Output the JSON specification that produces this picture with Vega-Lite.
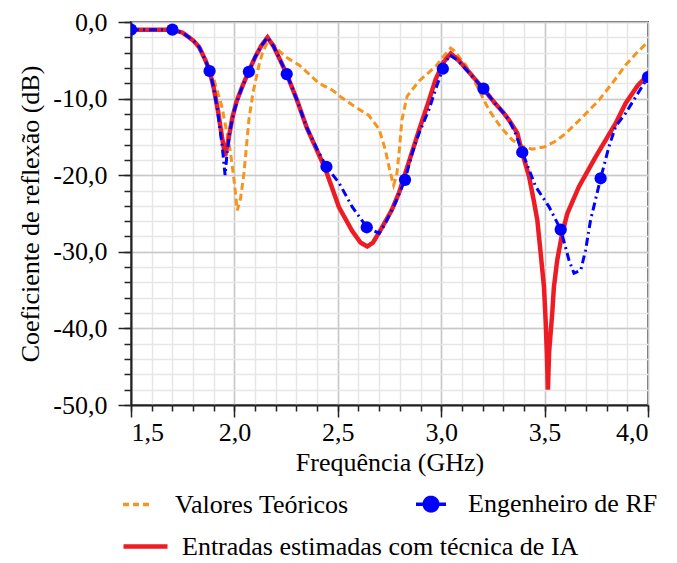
{
  "$schema": "https://vega.github.io/schema/vega-lite/v6.json",
  "width": 517,
  "height": 383,
  "padding": {"left": 17, "top": 9, "right": 3, "bottom": 0},
  "background": "white",
  "view": {"stroke": "#444444", "strokeWidth": 2},
  "datasets": {
    "theo": [
      {"f": 1.5, "db": -1.0, "s": "Valores Teóricos"},
      {"f": 1.6, "db": -1.0, "s": "Valores Teóricos"},
      {"f": 1.7, "db": -1.05, "s": "Valores Teóricos"},
      {"f": 1.74, "db": -1.3, "s": "Valores Teóricos"},
      {"f": 1.78, "db": -1.9, "s": "Valores Teóricos"},
      {"f": 1.82, "db": -3.0, "s": "Valores Teóricos"},
      {"f": 1.86, "db": -4.8, "s": "Valores Teóricos"},
      {"f": 1.9, "db": -7.4, "s": "Valores Teóricos"},
      {"f": 1.94, "db": -11.1, "s": "Valores Teóricos"},
      {"f": 1.98, "db": -16.8, "s": "Valores Teóricos"},
      {"f": 2.0, "db": -21.0, "s": "Valores Teóricos"},
      {"f": 2.014, "db": -24.6, "s": "Valores Teóricos"},
      {"f": 2.03, "db": -23.0, "s": "Valores Teóricos"},
      {"f": 2.046, "db": -19.8, "s": "Valores Teóricos"},
      {"f": 2.07, "db": -12.8, "s": "Valores Teóricos"},
      {"f": 2.09, "db": -9.2, "s": "Valores Teóricos"},
      {"f": 2.103, "db": -7.6, "s": "Valores Teóricos"},
      {"f": 2.12, "db": -5.5, "s": "Valores Teóricos"},
      {"f": 2.135, "db": -4.1, "s": "Valores Teóricos"},
      {"f": 2.155, "db": -2.9, "s": "Valores Teóricos"},
      {"f": 2.167, "db": -2.5, "s": "Valores Teóricos"},
      {"f": 2.185, "db": -2.8, "s": "Valores Teóricos"},
      {"f": 2.21, "db": -3.6, "s": "Valores Teóricos"},
      {"f": 2.25, "db": -4.6, "s": "Valores Teóricos"},
      {"f": 2.312, "db": -5.6, "s": "Valores Teóricos"},
      {"f": 2.409, "db": -8.0, "s": "Valores Teóricos"},
      {"f": 2.474, "db": -8.9, "s": "Valores Teóricos"},
      {"f": 2.52, "db": -9.9, "s": "Valores Teóricos"},
      {"f": 2.569, "db": -10.8, "s": "Valores Teóricos"},
      {"f": 2.65, "db": -12.2, "s": "Valores Teóricos"},
      {"f": 2.7, "db": -14.0, "s": "Valores Teóricos"},
      {"f": 2.73, "db": -16.7, "s": "Valores Teóricos"},
      {"f": 2.754, "db": -19.7, "s": "Valores Teóricos"},
      {"f": 2.77, "db": -21.3, "s": "Valores Teóricos"},
      {"f": 2.785, "db": -20.0, "s": "Valores Teóricos"},
      {"f": 2.796, "db": -17.1, "s": "Valores Teóricos"},
      {"f": 2.81, "db": -12.8, "s": "Valores Teóricos"},
      {"f": 2.835, "db": -9.7, "s": "Valores Teóricos"},
      {"f": 2.893, "db": -7.7, "s": "Valores Teóricos"},
      {"f": 2.973, "db": -5.8, "s": "Valores Teóricos"},
      {"f": 3.02, "db": -4.2, "s": "Valores Teóricos"},
      {"f": 3.046, "db": -3.4, "s": "Valores Teóricos"},
      {"f": 3.065, "db": -3.8, "s": "Valores Teóricos"},
      {"f": 3.09, "db": -4.7, "s": "Valores Teóricos"},
      {"f": 3.118, "db": -5.6, "s": "Valores Teóricos"},
      {"f": 3.17, "db": -8.2, "s": "Valores Teóricos"},
      {"f": 3.231, "db": -11.5, "s": "Valores Teóricos"},
      {"f": 3.29, "db": -13.8, "s": "Valores Teóricos"},
      {"f": 3.344, "db": -15.4, "s": "Valores Teóricos"},
      {"f": 3.39, "db": -16.2, "s": "Valores Teóricos"},
      {"f": 3.44, "db": -16.6, "s": "Valores Teóricos"},
      {"f": 3.5, "db": -16.3, "s": "Valores Teóricos"},
      {"f": 3.55, "db": -15.6, "s": "Valores Teóricos"},
      {"f": 3.6, "db": -14.6, "s": "Valores Teóricos"},
      {"f": 3.68, "db": -12.5, "s": "Valores Teóricos"},
      {"f": 3.763, "db": -10.2, "s": "Valores Teóricos"},
      {"f": 3.83, "db": -7.9, "s": "Valores Teóricos"},
      {"f": 3.892, "db": -5.6, "s": "Valores Teóricos"},
      {"f": 3.95, "db": -3.9, "s": "Valores Teóricos"},
      {"f": 4.0, "db": -2.6, "s": "Valores Teóricos"}
    ],
    "ai": [
      {"f": 1.5, "db": -1.0, "s": "Entradas estimadas com técnica de IA"},
      {"f": 1.6, "db": -1.0, "s": "Entradas estimadas com técnica de IA"},
      {"f": 1.7, "db": -1.0, "s": "Entradas estimadas com técnica de IA"},
      {"f": 1.75, "db": -1.4, "s": "Entradas estimadas com técnica de IA"},
      {"f": 1.8, "db": -2.4, "s": "Entradas estimadas com técnica de IA"},
      {"f": 1.83, "db": -3.3, "s": "Entradas estimadas com técnica de IA"},
      {"f": 1.86, "db": -5.0, "s": "Entradas estimadas com técnica de IA"},
      {"f": 1.88, "db": -6.4, "s": "Entradas estimadas com técnica de IA"},
      {"f": 1.9, "db": -8.6, "s": "Entradas estimadas com técnica de IA"},
      {"f": 1.92, "db": -11.5, "s": "Entradas estimadas com técnica de IA"},
      {"f": 1.94, "db": -15.0, "s": "Entradas estimadas com técnica de IA"},
      {"f": 1.955, "db": -17.5, "s": "Entradas estimadas com técnica de IA"},
      {"f": 1.97, "db": -15.5, "s": "Entradas estimadas com técnica de IA"},
      {"f": 1.99, "db": -12.5, "s": "Entradas estimadas com técnica de IA"},
      {"f": 2.01, "db": -10.4, "s": "Entradas estimadas com técnica de IA"},
      {"f": 2.04, "db": -8.3, "s": "Entradas estimadas com técnica de IA"},
      {"f": 2.07, "db": -6.4, "s": "Entradas estimadas com técnica de IA"},
      {"f": 2.1, "db": -4.6, "s": "Entradas estimadas com técnica de IA"},
      {"f": 2.13, "db": -3.1, "s": "Entradas estimadas com técnica de IA"},
      {"f": 2.16, "db": -2.0, "s": "Entradas estimadas com técnica de IA"},
      {"f": 2.19, "db": -3.2, "s": "Entradas estimadas com técnica de IA"},
      {"f": 2.22, "db": -4.9, "s": "Entradas estimadas com técnica de IA"},
      {"f": 2.253, "db": -6.8, "s": "Entradas estimadas com técnica de IA"},
      {"f": 2.3, "db": -10.0, "s": "Entradas estimadas com técnica de IA"},
      {"f": 2.35, "db": -13.8, "s": "Entradas estimadas com técnica de IA"},
      {"f": 2.4, "db": -16.8, "s": "Entradas estimadas com técnica de IA"},
      {"f": 2.44, "db": -19.2, "s": "Entradas estimadas com técnica de IA"},
      {"f": 2.506, "db": -24.2, "s": "Entradas estimadas com técnica de IA"},
      {"f": 2.57, "db": -27.3, "s": "Entradas estimadas com técnica de IA"},
      {"f": 2.61, "db": -28.8, "s": "Entradas estimadas com técnica de IA"},
      {"f": 2.643, "db": -29.3, "s": "Entradas estimadas com técnica de IA"},
      {"f": 2.67, "db": -28.8, "s": "Entradas estimadas com técnica de IA"},
      {"f": 2.71, "db": -27.0, "s": "Entradas estimadas com técnica de IA"},
      {"f": 2.76, "db": -24.6, "s": "Entradas estimadas com técnica de IA"},
      {"f": 2.796, "db": -22.3, "s": "Entradas estimadas com técnica de IA"},
      {"f": 2.84, "db": -18.6, "s": "Entradas estimadas com técnica de IA"},
      {"f": 2.893, "db": -14.1, "s": "Entradas estimadas com técnica de IA"},
      {"f": 2.94, "db": -10.3, "s": "Entradas estimadas com técnica de IA"},
      {"f": 2.973, "db": -7.5, "s": "Entradas estimadas com técnica de IA"},
      {"f": 3.01, "db": -5.3, "s": "Entradas estimadas com técnica de IA"},
      {"f": 3.046, "db": -4.1, "s": "Entradas estimadas com técnica de IA"},
      {"f": 3.08, "db": -4.9, "s": "Entradas estimadas com técnica de IA"},
      {"f": 3.13, "db": -6.4, "s": "Entradas estimadas com técnica de IA"},
      {"f": 3.2, "db": -8.6, "s": "Entradas estimadas com técnica de IA"},
      {"f": 3.26, "db": -10.6, "s": "Entradas estimadas com técnica de IA"},
      {"f": 3.3, "db": -11.8, "s": "Entradas estimadas com técnica de IA"},
      {"f": 3.328, "db": -12.8, "s": "Entradas estimadas com técnica de IA"},
      {"f": 3.368, "db": -14.5, "s": "Entradas estimadas com técnica de IA"},
      {"f": 3.392, "db": -17.1, "s": "Entradas estimadas com técnica de IA"},
      {"f": 3.425, "db": -20.2, "s": "Entradas estimadas com técnica de IA"},
      {"f": 3.449, "db": -23.5, "s": "Entradas estimadas com técnica de IA"},
      {"f": 3.465, "db": -25.9, "s": "Entradas estimadas com técnica de IA"},
      {"f": 3.481, "db": -30.2, "s": "Entradas estimadas com técnica de IA"},
      {"f": 3.497, "db": -34.6, "s": "Entradas estimadas com técnica de IA"},
      {"f": 3.505, "db": -39.0, "s": "Entradas estimadas com técnica de IA"},
      {"f": 3.511, "db": -43.3, "s": "Entradas estimadas com técnica de IA"},
      {"f": 3.516, "db": -48.0, "s": "Entradas estimadas com técnica de IA"},
      {"f": 3.522, "db": -43.0, "s": "Entradas estimadas com técnica de IA"},
      {"f": 3.537, "db": -38.0, "s": "Entradas estimadas com técnica de IA"},
      {"f": 3.545, "db": -34.6, "s": "Entradas estimadas com técnica de IA"},
      {"f": 3.561, "db": -31.1, "s": "Entradas estimadas com técnica de IA"},
      {"f": 3.585, "db": -27.6, "s": "Entradas estimadas com técnica de IA"},
      {"f": 3.61, "db": -25.0, "s": "Entradas estimadas com técnica de IA"},
      {"f": 3.666, "db": -21.5, "s": "Entradas estimadas com técnica de IA"},
      {"f": 3.747, "db": -17.6, "s": "Entradas estimadas com técnica de IA"},
      {"f": 3.844, "db": -13.2, "s": "Entradas estimadas com técnica de IA"},
      {"f": 3.892, "db": -10.6, "s": "Entradas estimadas com técnica de IA"},
      {"f": 3.95, "db": -8.3, "s": "Entradas estimadas com técnica de IA"},
      {"f": 4.0, "db": -6.9, "s": "Entradas estimadas com técnica de IA"}
    ],
    "rf": [
      {"f": 1.5, "db": -1.0, "s": "Engenheiro de RF"},
      {"f": 1.6, "db": -1.0, "s": "Engenheiro de RF"},
      {"f": 1.7, "db": -1.0, "s": "Engenheiro de RF"},
      {"f": 1.75, "db": -1.4, "s": "Engenheiro de RF"},
      {"f": 1.8, "db": -2.4, "s": "Engenheiro de RF"},
      {"f": 1.83, "db": -3.3, "s": "Engenheiro de RF"},
      {"f": 1.86, "db": -5.0, "s": "Engenheiro de RF"},
      {"f": 1.88, "db": -6.4, "s": "Engenheiro de RF"},
      {"f": 1.9, "db": -8.6, "s": "Engenheiro de RF"},
      {"f": 1.92, "db": -11.8, "s": "Engenheiro de RF"},
      {"f": 1.94, "db": -16.0, "s": "Engenheiro de RF"},
      {"f": 1.955, "db": -20.0, "s": "Engenheiro de RF"},
      {"f": 1.965, "db": -17.0, "s": "Engenheiro de RF"},
      {"f": 1.98, "db": -14.0, "s": "Engenheiro de RF"},
      {"f": 2.0, "db": -11.5, "s": "Engenheiro de RF"},
      {"f": 2.03, "db": -9.0, "s": "Engenheiro de RF"},
      {"f": 2.07, "db": -6.5, "s": "Engenheiro de RF"},
      {"f": 2.1, "db": -4.6, "s": "Engenheiro de RF"},
      {"f": 2.13, "db": -3.1, "s": "Engenheiro de RF"},
      {"f": 2.16, "db": -2.0, "s": "Engenheiro de RF"},
      {"f": 2.19, "db": -3.2, "s": "Engenheiro de RF"},
      {"f": 2.22, "db": -4.9, "s": "Engenheiro de RF"},
      {"f": 2.253, "db": -6.8, "s": "Engenheiro de RF"},
      {"f": 2.3, "db": -10.0, "s": "Engenheiro de RF"},
      {"f": 2.35, "db": -13.8, "s": "Engenheiro de RF"},
      {"f": 2.4, "db": -16.6, "s": "Engenheiro de RF"},
      {"f": 2.445, "db": -18.9, "s": "Engenheiro de RF"},
      {"f": 2.506, "db": -21.0, "s": "Engenheiro de RF"},
      {"f": 2.569, "db": -24.1, "s": "Engenheiro de RF"},
      {"f": 2.64, "db": -26.8, "s": "Engenheiro de RF"},
      {"f": 2.7, "db": -27.6, "s": "Engenheiro de RF"},
      {"f": 2.73, "db": -26.3, "s": "Engenheiro de RF"},
      {"f": 2.78, "db": -23.5, "s": "Engenheiro de RF"},
      {"f": 2.825, "db": -20.6, "s": "Engenheiro de RF"},
      {"f": 2.86, "db": -17.1, "s": "Engenheiro de RF"},
      {"f": 2.893, "db": -14.5, "s": "Engenheiro de RF"},
      {"f": 2.94, "db": -11.5, "s": "Engenheiro de RF"},
      {"f": 2.973, "db": -8.8, "s": "Engenheiro de RF"},
      {"f": 3.008, "db": -6.1, "s": "Engenheiro de RF"},
      {"f": 3.04, "db": -4.3, "s": "Engenheiro de RF"},
      {"f": 3.08, "db": -5.0, "s": "Engenheiro de RF"},
      {"f": 3.13, "db": -6.5, "s": "Engenheiro de RF"},
      {"f": 3.204, "db": -8.7, "s": "Engenheiro de RF"},
      {"f": 3.26, "db": -10.6, "s": "Engenheiro de RF"},
      {"f": 3.3, "db": -11.8, "s": "Engenheiro de RF"},
      {"f": 3.33, "db": -12.9, "s": "Engenheiro de RF"},
      {"f": 3.36, "db": -14.6, "s": "Engenheiro de RF"},
      {"f": 3.392, "db": -17.0, "s": "Engenheiro de RF"},
      {"f": 3.457, "db": -21.5, "s": "Engenheiro de RF"},
      {"f": 3.521, "db": -24.1, "s": "Engenheiro de RF"},
      {"f": 3.578, "db": -27.1, "s": "Engenheiro de RF"},
      {"f": 3.618, "db": -31.1, "s": "Engenheiro de RF"},
      {"f": 3.642, "db": -32.8, "s": "Engenheiro de RF"},
      {"f": 3.675, "db": -32.4, "s": "Engenheiro de RF"},
      {"f": 3.698, "db": -29.8, "s": "Engenheiro de RF"},
      {"f": 3.722, "db": -25.9, "s": "Engenheiro de RF"},
      {"f": 3.771, "db": -20.4, "s": "Engenheiro de RF"},
      {"f": 3.811, "db": -16.3, "s": "Engenheiro de RF"},
      {"f": 3.844, "db": -13.6, "s": "Engenheiro de RF"},
      {"f": 3.892, "db": -11.9, "s": "Engenheiro de RF"},
      {"f": 3.956, "db": -9.1, "s": "Engenheiro de RF"},
      {"f": 4.0, "db": -7.2, "s": "Engenheiro de RF"}
    ],
    "rfpts": [
      {"f": 1.5, "db": -1.0, "s": "Engenheiro de RF"},
      {"f": 1.7, "db": -1.0, "s": "Engenheiro de RF"},
      {"f": 1.88, "db": -6.4, "s": "Engenheiro de RF"},
      {"f": 2.07, "db": -6.5, "s": "Engenheiro de RF"},
      {"f": 2.253, "db": -6.8, "s": "Engenheiro de RF"},
      {"f": 2.445, "db": -18.9, "s": "Engenheiro de RF"},
      {"f": 2.64, "db": -26.8, "s": "Engenheiro de RF"},
      {"f": 2.825, "db": -20.6, "s": "Engenheiro de RF"},
      {"f": 3.008, "db": -6.1, "s": "Engenheiro de RF"},
      {"f": 3.204, "db": -8.7, "s": "Engenheiro de RF"},
      {"f": 3.392, "db": -17.0, "s": "Engenheiro de RF"},
      {"f": 3.578, "db": -27.1, "s": "Engenheiro de RF"},
      {"f": 3.771, "db": -20.4, "s": "Engenheiro de RF"},
      {"f": 4.0, "db": -7.2, "s": "Engenheiro de RF"}
    ]
  },
  "layer": [
    {
      "data": {"name": "theo"},
      "mark": {"type": "line", "strokeWidth": 3, "clip": true},
      "encoding": {
        "x": {"field": "f", "type": "quantitative", "scale": {"domain": [1.5, 4.0], "nice": false, "zero": false},
          "axis": {"values": [1.5,1.6,1.7,1.8,1.9,2.0,2.1,2.2,2.3,2.4,2.5,2.6,2.7,2.8,2.9,3.0,3.1,3.2,3.3,3.4,3.5,3.6,3.7,3.8,3.9,4.0], "orient": "bottom", "labels": false, "title": null, "domain": false, "grid": true, "gridColor": "#e6e6e6", "gridWidth": 1.5, "tickSize": 6, "tickWidth": 1.5, "tickColor": "#222222"}},
        "y": {"field": "db", "type": "quantitative", "scale": {"domain": [-50, 0], "nice": false, "zero": false},
          "axis": {"values": [0,-2,-4,-6,-8,-10,-12,-14,-16,-18,-20,-22,-24,-26,-28,-30,-32,-34,-36,-38,-40,-42,-44,-46,-48,-50], "orient": "left", "labels": false, "title": null, "domain": false, "grid": true, "gridColor": "#e6e6e6", "gridWidth": 1.5, "tickSize": 7, "tickWidth": 1.5, "tickColor": "#222222"}},
        "color": {"field": "s", "type": "nominal",
          "scale": {"domain": ["Valores Teóricos", "Engenheiro de RF", "Entradas estimadas com técnica de IA"], "range": ["#f7941d", "#0000ff", "#ed1c24"]},
          "legend": {"title": null, "orient": "none", "legendX": -10, "legendY": 465, "direction": "horizontal", "values": ["Valores Teóricos", "Engenheiro de RF"], "columnPadding": 60, "symbolType": "stroke", "symbolSize": 900, "symbolStrokeWidth": 3.5, "labelOffset": 20, "labelLimit": 0,
            "labelFont": "Liberation Serif, Times New Roman, DejaVu Serif, serif", "labelFontSize": 26, "labelColor": "#000000",
            "encode": {"symbols": {"update": {
              "shape": {"signal": "datum.value === 'Engenheiro de RF' ? 'M-1,0L-0.5,0M0.5,0L1,0M0.45,0A0.45,0.45,0,1,1,-0.45,0A0.45,0.45,0,1,1,0.45,0Z' : 'stroke'"},
              "fill": {"signal": "datum.value === 'Engenheiro de RF' ? '#0000ff' : 'transparent'"},
              "strokeDash": {"signal": "datum.value === 'Valores Teóricos' ? [6, 4] : [1, 0]"}
            }}}}},
        "strokeDash": {"field": "s", "type": "nominal",
          "scale": {"domain": ["Entradas estimadas com técnica de IA", "Valores Teóricos", "Engenheiro de RF"], "range": [[1, 0], [7, 4], [8, 4, 2, 4]]},
          "legend": {"title": null, "orient": "none", "legendX": -10, "legendY": 500, "values": ["Entradas estimadas com técnica de IA"], "symbolType": "stroke", "symbolSize": 1936, "symbolStrokeWidth": 4.5, "symbolStrokeColor": "#ed1c24", "labelOffset": 12, "labelLimit": 0,
            "labelFont": "Liberation Serif, Times New Roman, DejaVu Serif, serif", "labelFontSize": 26, "labelColor": "#000000",
            "encode": {"symbols": {"update": {"stroke": {"value": "#ed1c24"}, "strokeDash": {"value": [1, 0]}}}}}}
      }
    },
    {
      "data": {"name": "ai"},
      "mark": {"type": "line", "strokeWidth": 4.5, "clip": true},
      "encoding": {
        "x": {"field": "f", "type": "quantitative",
          "axis": {"values": [1.5, 2.0, 2.5, 3.0, 3.5, 4.0], "orient": "bottom", "title": "Frequência (GHz)", "titlePadding": 4, "titleFont": "Liberation Serif, Times New Roman, DejaVu Serif, serif", "titleFontSize": 26, "titleFontWeight": "normal", "titleColor": "#000000", "labelFont": "Liberation Serif, Times New Roman, DejaVu Serif, serif", "labelFontSize": 26, "labelColor": "#000000", "domainColor": "#222222", "domainWidth": 2, "grid": true, "gridColor": "#c8c8c8", "gridWidth": 1.5, "tickSize": 12, "tickWidth": 1.5, "tickColor": "#222222", "labelPadding": 2, "labelExpr": "replace(format(datum.value, '.1f'), '.', ',')"}},
        "y": {"field": "db", "type": "quantitative",
          "axis": {"values": [0, -10, -20, -30, -40, -50], "orient": "left", "title": "Coeficiente de reflexão (dB)", "titlePadding": 9, "titleFont": "Liberation Serif, Times New Roman, DejaVu Serif, serif", "titleFontSize": 26, "titleFontWeight": "normal", "titleColor": "#000000", "labelFont": "Liberation Serif, Times New Roman, DejaVu Serif, serif", "labelFontSize": 26, "labelColor": "#000000", "domainColor": "#222222", "domainWidth": 2, "grid": true, "gridColor": "#c8c8c8", "gridWidth": 1.5, "tickSize": 13, "tickWidth": 1.5, "tickColor": "#222222", "labelPadding": 11, "labelExpr": "(datum.value < 0 ? '-' : '') + replace(format(abs(datum.value), '.1f'), '.', ',')"}},
        "color": {"field": "s", "type": "nominal", "scale": {"domain": ["Valores Teóricos", "Engenheiro de RF", "Entradas estimadas com técnica de IA"], "range": ["#f7941d", "#0000ff", "#ed1c24"]}},
        "strokeDash": {"field": "s", "type": "nominal", "scale": {"domain": ["Entradas estimadas com técnica de IA", "Valores Teóricos", "Engenheiro de RF"], "range": [[1, 0], [7, 4], [8, 4, 2, 4]]}}
      }
    },
    {
      "data": {"name": "rf"},
      "mark": {"type": "line", "strokeWidth": 3, "clip": true},
      "encoding": {
        "x": {"field": "f", "type": "quantitative", "axis": null},
        "y": {"field": "db", "type": "quantitative", "axis": null},
        "color": {"field": "s", "type": "nominal", "scale": {"domain": ["Valores Teóricos", "Engenheiro de RF", "Entradas estimadas com técnica de IA"], "range": ["#f7941d", "#0000ff", "#ed1c24"]}},
        "strokeDash": {"field": "s", "type": "nominal", "scale": {"domain": ["Entradas estimadas com técnica de IA", "Valores Teóricos", "Engenheiro de RF"], "range": [[1, 0], [7, 4], [8, 4, 2, 4]]}}
      }
    },
    {
      "data": {"name": "rfpts"},
      "mark": {"type": "point", "filled": true, "opacity": 1, "size": 150, "clip": true, "color": "#0000ff"},
      "encoding": {
        "x": {"field": "f", "type": "quantitative", "axis": null},
        "y": {"field": "db", "type": "quantitative", "axis": null}
      }
    }
  ],
  "resolve": {"axis": {"x": "independent", "y": "independent"}}
}
